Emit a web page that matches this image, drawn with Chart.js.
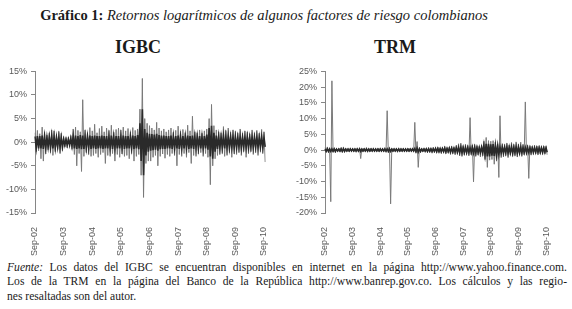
<!DOCTYPE html>
<html>
<head>
<meta charset="utf-8">
<script src="https://cdn.jsdelivr.net/npm/chart.js@4"></script>
<style>
  html, body { margin: 0; padding: 0; background: #fff; }
  body { width: 572px; height: 309px; position: relative; overflow: hidden; font-family: "Liberation Serif", "DejaVu Serif", serif; color: #1a1a1a; }
  .title { position: absolute; top: 8px; left: 0; width: 528px; text-align: center; font-size: 14.5px; line-height: 15px; }
  .panel-title { position: absolute; top: 38px; font-size: 18px; line-height: 18px; font-weight: bold; text-align: center; }
  .box { position: absolute; top: 62px; height: 196px; }
  .note { position: absolute; top: 261px; left: 7px; width: 560px; font-size: 11.6px; line-height: 14.3px; }
  .note div { text-align: justify; text-align-last: justify; white-space: nowrap; }
  .note div.last { text-align-last: left; }
</style>
</head>
<body>
<div class="title"><b>Gráfico 1:</b> <i>Retornos logarítmicos de algunos factores de riesgo colombianos</i></div>
<div class="panel-title" style="left:88px;width:100px;">IGBC</div>
<div class="panel-title" style="left:345px;width:100px;">TRM</div>
<div class="box" style="left:0;width:290px;"><canvas id="igbcChart"></canvas></div>
<div class="box" style="left:290px;width:282px;"><canvas id="trmChart"></canvas></div>
<div class="note">
  <div><i>Fuente:</i> Los datos del IGBC se encuentran disponibles en internet en la página http://www.yahoo.finance.com.</div>
  <div>Los de la TRM en la página del Banco de la República http://www.banrep.gov.co. Los cálculos y las regio-</div>
  <div class="last">nes resaltadas son del autor.</div>
</div>
<script>
// one bucket per month, Sep-02 .. Sep-10 (97 buckets), values in %
const yearLabels = ['Sep-02', 'Sep-03', 'Sep-04', 'Sep-05', 'Sep-06', 'Sep-07', 'Sep-08', 'Sep-09', 'Sep-10'];

// IGBC: highest / lowest daily return in each month, and width of the dense core band
const igbcMax = [
  2.0, 2.5, 1.8, 3.2, 2.2, 1.5, 2.0, 2.6, 2.4, 1.6, 2.3, 1.9,
  1.2, 1.0, 1.1, 1.4, 2.8, 3.2, 2.5, 2.2, 9.0, 2.6, 2.0, 3.1,
  2.4, 3.8, 2.0, 2.9, 3.4, 2.2, 3.0, 2.5, 3.6, 2.1, 2.7, 3.0,
  2.6, 3.2, 2.4, 2.9, 2.2, 3.1, 2.5, 2.8, 7.0, 13.5, 5.0, 4.0,
  3.5, 3.0, 2.6, 4.2, 3.0, 2.4, 2.8, 2.2, 2.6, 3.0, 2.1, 2.5,
  3.4, 2.3, 2.7, 2.0, 3.6, 2.4, 5.5, 2.2, 2.0, 2.6, 1.9, 2.4,
  2.8, 5.0, 8.0, 3.5, 2.6, 2.2, 2.0, 3.3, 2.5, 3.0, 2.1, 2.6,
  2.3, 2.0, 2.8, 1.9, 2.4, 2.2, 1.8, 2.6, 2.0, 2.5, 1.9, 2.7, 2.2
];
const igbcMin = [
  -2.0, -1.8, -3.5, -4.0, -2.5, -1.6, -2.2, -2.8, -2.0, -1.5, -2.4, -1.8,
  -1.0, -1.2, -0.9, -1.5, -2.6, -5.0, -2.4, -6.2, -3.0, -2.2, -2.6, -3.0,
  -2.8, -2.4, -3.2, -2.6, -2.2, -4.5, -2.8, -3.0, -2.4, -4.0, -2.6, -3.2,
  -2.5, -3.0, -2.8, -3.5, -2.4, -4.0, -3.0, -2.6, -7.0, -11.7, -4.5, -4.0,
  -4.0, -3.2, -2.8, -5.0, -3.0, -2.5, -3.4, -2.6, -3.0, -2.4, -2.8, -5.0,
  -2.6, -3.0, -2.4, -3.2, -2.2, -4.5, -2.8, -3.0, -2.5, -2.2, -3.0, -2.4,
  -3.2, -9.0, -5.0, -3.5, -2.8, -2.6, -2.4, -3.0, -2.8, -2.2, -3.2, -2.5,
  -2.6, -2.2, -2.8, -2.0, -3.2, -2.4, -2.0, -2.6, -2.2, -2.8, -2.0, -2.4, -4.2
];
const igbcCore = [
  1.2, 1.3, 1.3, 1.4, 1.2, 1.0, 1.1, 1.3, 1.2, 1.0, 1.1, 1.0,
  0.6, 0.6, 0.6, 0.8, 1.3, 1.4, 1.3, 1.5, 1.4, 1.2, 1.2, 1.4,
  1.3, 1.4, 1.3, 1.3, 1.4, 1.3, 1.3, 1.2, 1.4, 1.2, 1.3, 1.3,
  1.2, 1.4, 1.3, 1.3, 1.2, 1.4, 1.3, 1.5, 4.0, 7.0, 2.8, 2.0,
  1.8, 1.7, 1.6, 1.8, 1.5, 1.4, 1.4, 1.3, 1.3, 1.4, 1.2, 1.3,
  1.4, 1.2, 1.3, 1.2, 1.4, 1.3, 1.4, 1.2, 1.2, 1.3, 1.2, 1.3,
  1.6, 3.0, 3.5, 2.0, 1.4, 1.2, 1.1, 1.3, 1.2, 1.2, 1.1, 1.2,
  1.1, 1.0, 1.2, 1.0, 1.1, 1.1, 1.0, 1.1, 1.0, 1.1, 1.0, 1.1, 1.0
];

// TRM: same layout
const trmMax = [
  0.8, 1.0, 0.6, 22.0, 0.7, 0.5, 0.6, 0.8, 1.0, 0.6, 0.5, 0.7,
  0.6, 0.5, 0.7, 0.6, 0.5, 0.6, 0.8, 0.5, 0.6, 0.7, 0.5, 0.6,
  0.7, 0.6, 0.8, 12.5, 1.0, 0.6, 0.5, 0.6, 0.7, 0.5, 0.6, 0.5,
  0.6, 0.5, 0.7, 8.8, 2.7, 0.8, 0.6, 0.7, 0.6, 0.8, 0.7, 0.9,
  0.8, 1.0, 0.7, 0.9, 1.2, 0.8, 1.0, 1.3, 0.9, 1.5, 2.0, 2.2,
  1.4, 1.8, 1.5, 10.3, 1.6, 1.8, 1.4, 1.2, 1.6, 2.8, 4.0, 3.0,
  2.8, 3.0, 2.5, 1.8, 10.9, 2.0, 1.8, 2.2, 1.6, 2.4, 1.8, 2.6,
  1.9, 2.5, 1.8, 15.3, 1.6, 1.4, 1.2, 1.5, 1.3, 1.4, 1.2, 1.3, 1.2
];
const trmMin = [
  -0.7, -0.8, -16.4, -0.6, -0.8, -0.5, -0.6, -0.7, -0.6, -0.5, -0.6, -0.5,
  -0.6, -0.7, -0.5, -2.7, -0.6, -0.5, -0.7, -0.6, -0.5, -0.6, -0.5, -0.6,
  -0.5, -0.6, -0.7, -0.8, -17.1, -0.6, -0.5, -0.7, -0.6, -0.5, -0.6, -0.5,
  -0.6, -0.5, -0.6, -0.9, -5.5, -0.8, -0.6, -0.7, -0.8, -0.7, -1.0, -0.8,
  -0.9, -0.8, -1.1, -0.9, -1.2, -1.0, -1.4, -1.2, -1.5, -1.3, -1.8, -2.0,
  -1.6, -1.4, -1.8, -1.5, -10.1, -2.0, -1.6, -2.2, -1.8, -3.0, -5.5, -3.2,
  -3.0, -4.5, -3.5, -8.7, -2.4, -2.2, -1.8, -2.4, -1.6, -2.0, -1.8, -2.2,
  -1.6, -2.0, -1.5, -1.4, -9.0, -1.6, -1.4, -1.2, -1.5, -1.3, -1.4, -1.2, -1.5
];
const trmCore = [
  0.4, 0.4, 0.4, 0.4, 0.4, 0.3, 0.3, 0.4, 0.4, 0.3, 0.3, 0.3,
  0.3, 0.3, 0.3, 0.4, 0.3, 0.3, 0.3, 0.3, 0.3, 0.3, 0.3, 0.3,
  0.3, 0.3, 0.3, 0.4, 0.4, 0.3, 0.3, 0.3, 0.3, 0.3, 0.3, 0.3,
  0.3, 0.3, 0.3, 0.5, 0.6, 0.4, 0.3, 0.3, 0.4, 0.4, 0.4, 0.4,
  0.5, 0.5, 0.5, 0.5, 0.6, 0.5, 0.6, 0.6, 0.6, 0.7, 0.8, 0.9,
  0.8, 0.8, 0.8, 0.8, 0.9, 0.9, 0.8, 0.8, 0.9, 1.6, 2.0, 2.0,
  1.8, 1.9, 1.6, 1.4, 1.0, 0.9, 0.9, 1.0, 0.9, 1.0, 0.9, 1.0,
  0.9, 0.9, 0.8, 0.8, 0.8, 0.7, 0.7, 0.7, 0.7, 0.7, 0.7, 0.7, 0.7
];

// each month is drawn as two points: high then low
function interleave(hi, lo) {
  const out = [];
  hi.forEach((h, i) => { out.push(h, lo[i]); });
  return out;
}
function labelsFor(n) {
  const out = [];
  for (let i = 0; i < n; i++) {
    out.push(i % 12 === 0 ? yearLabels[i / 12] : '', '');
  }
  return out;
}

function makeChart(id, maxArr, minArr, coreArr, yMin, yMax, padRight) {
  const ctx = document.getElementById(id).getContext('2d');
  return new Chart(ctx, {
    type: 'line',
    data: {
      labels: labelsFor(maxArr.length),
      datasets: [{
        data: interleave(coreArr, coreArr.map(v => -v)),
        borderColor: '#2a2a2a',
        borderWidth: 1.6,
        pointRadius: 0,
        order: 0
      }, {
        data: interleave(maxArr, minArr),
        borderColor: '#7a7a7a',
        borderWidth: 1,
        pointRadius: 0,
        order: 1
      }]
    },
    options: {
      responsive: true,
      maintainAspectRatio: false,
      animation: false,
      layout: { padding: { top: 3, right: padRight, left: 0, bottom: 0 } },
      plugins: { legend: { display: false }, tooltip: { enabled: false } },
      scales: {
        x: {
          offset: false,
          grid: { display: false, drawTicks: false },
          border: { display: false },
          ticks: {
            autoSkip: false, minRotation: 90, maxRotation: 90, padding: 14,
            color: '#595959', font: { family: 'Liberation Sans', size: 9 }
          },
          afterFit: s => { s.height = 45; }
        },
        y: {
          min: yMin, max: yMax,
          grid: { drawOnChartArea: false, tickLength: 4, color: '#868686' },
          border: { color: '#868686' },
          ticks: {
            stepSize: 5, padding: 4,
            color: '#595959', font: { family: 'Liberation Sans', size: 9 },
            callback: v => v + '%'
          },
          afterFit: s => { s.width = 35; }
        }
      }
    }
  });
}

makeChart('igbcChart', igbcMax, igbcMin, igbcCore, -15, 15, 12);
makeChart('trmChart', trmMax, trmMin, trmCore, -20, 25, 6);
</script>
</body>
</html>
